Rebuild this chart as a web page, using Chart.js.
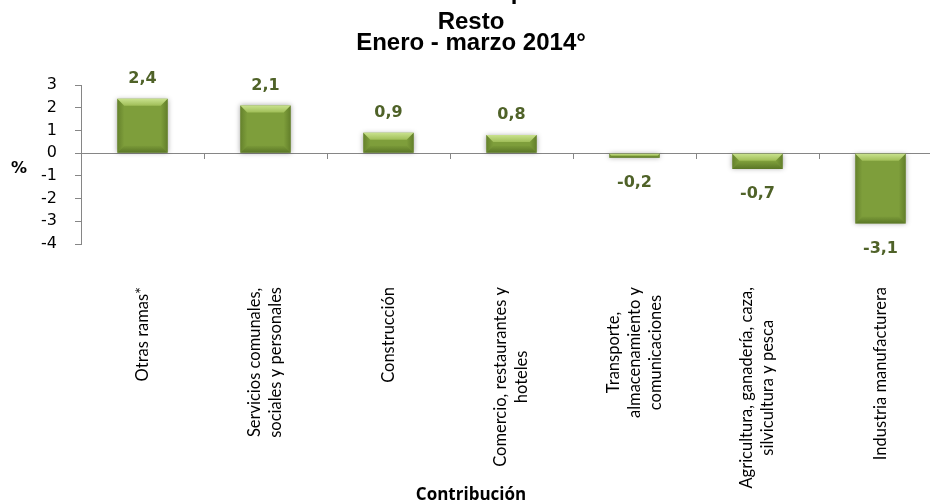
<!DOCTYPE html>
<html lang="es">
<head>
<meta charset="utf-8">
<title>Contribución por rama - Resto</title>
<script src="https://cdn.jsdelivr.net/npm/chart.js@4.4.1/dist/chart.umd.min.js"></script>
<style>
  html, body { margin: 0; padding: 0; background: #fff; overflow: hidden; }
  #grafico { display: block; }
</style>
</head>
<body>
<canvas id="grafico" width="942" height="504"></canvas>
<script>
// ---------- datos ----------
const ramas = [
  ['Otras ramas*'],
  ['Servicios comunales,', 'sociales y personales'],
  ['Construcción'],
  ['Comercio, restaurantes y', 'hoteles'],
  ['Transporte,', 'almacenamiento y', 'comunicaciones'],
  ['Agricultura, ganadería, caza,', 'silvicultura y pesca'],
  ['Industria manufacturera']
];
const contribucion = [2.4, 2.1, 0.9, 0.8, -0.2, -0.7, -3.1];
const ticksY = [3, 2, 1, 0, -1, -2, -3, -4];

const titulo = ['Resto', 'Enero - marzo 2014°'];
const tituloSuperior = 'Tasa de empleo';
const tituloEjeX = 'Contribución';
const tituloEjeY = '%';

// ---------- estilos ----------
const GRIS = '#868686';
const VERDE = '#7E9E3B';
const VERDE_TEXTO = '#4F6228';

const fmt = v => v.toFixed(1).replace('.', ',');

// sombra suave alrededor de las barras
const sombra = {
  id: 'sombra',
  beforeDatasetsDraw(chart) {
    const ctx = chart.ctx;
    ctx.save();
    ctx.shadowColor = 'rgba(0,0,0,0.35)';
    ctx.shadowBlur = 5;
  },
  afterDatasetsDraw(chart) {
    chart.ctx.restore();
  }
};

// bisel tipo "relieve" sobre cada barra
const relieve = {
  id: 'relieve',
  afterDatasetsDraw(chart) {
    const ctx = chart.ctx;
    chart.getDatasetMeta(0).data.forEach(bar => {
      const p = bar.getProps(['x', 'y', 'base', 'width'], true);
      const l = p.x - p.width / 2, r = p.x + p.width / 2;
      const t = Math.min(p.y, p.base), b = Math.max(p.y, p.base);
      const bev = Math.min(7, (b - t) / 2);
      ctx.save();
      // cara superior clara
      let g = ctx.createLinearGradient(0, t, 0, t + bev);
      g.addColorStop(0, '#C9E28E');
      g.addColorStop(1, '#A0BE58');
      ctx.fillStyle = g;
      ctx.beginPath();
      ctx.moveTo(l, t); ctx.lineTo(r, t);
      ctx.lineTo(r - bev, t + bev); ctx.lineTo(l + bev, t + bev);
      ctx.closePath(); ctx.fill();
      // laterales
      g = ctx.createLinearGradient(l, 0, l + bev, 0);
      g.addColorStop(0, 'rgba(70,95,25,0.45)');
      g.addColorStop(1, 'rgba(70,95,25,0.0)');
      ctx.fillStyle = g;
      ctx.beginPath();
      ctx.moveTo(l, t); ctx.lineTo(l + bev, t + bev);
      ctx.lineTo(l + bev, b - bev); ctx.lineTo(l, b);
      ctx.closePath(); ctx.fill();
      g = ctx.createLinearGradient(r, 0, r - bev, 0);
      g.addColorStop(0, 'rgba(70,95,25,0.5)');
      g.addColorStop(1, 'rgba(70,95,25,0.0)');
      ctx.fillStyle = g;
      ctx.beginPath();
      ctx.moveTo(r, t); ctx.lineTo(r - bev, t + bev);
      ctx.lineTo(r - bev, b - bev); ctx.lineTo(r, b);
      ctx.closePath(); ctx.fill();
      // cara inferior oscura
      g = ctx.createLinearGradient(0, b, 0, b - bev);
      g.addColorStop(0, 'rgba(60,85,20,0.55)');
      g.addColorStop(1, 'rgba(60,85,20,0.05)');
      ctx.fillStyle = g;
      ctx.beginPath();
      ctx.moveTo(l, b); ctx.lineTo(r, b);
      ctx.lineTo(r - bev, b - bev); ctx.lineTo(l + bev, b - bev);
      ctx.closePath(); ctx.fill();
      ctx.restore();
    });
  }
};

// valores encima / debajo de cada barra
const rotulos = {
  id: 'rotulos',
  afterDatasetsDraw(chart) {
    const ctx = chart.ctx;
    const datos = chart.data.datasets[0].data;
    ctx.save();
    ctx.font = 'bold 16px "DejaVu Sans", Verdana, sans-serif';
    ctx.fillStyle = VERDE_TEXTO;
    ctx.textAlign = 'center';
    ctx.textBaseline = 'middle';
    chart.getDatasetMeta(0).data.forEach((bar, i) => {
      const v = datos[i];
      const y = v >= 0 ? bar.y - 20 : bar.y + 25;
      ctx.fillText(fmt(v), bar.x, y);
    });
    ctx.restore();
  }
};

// etiquetas de categoria giradas, lineas centradas entre si
const etiquetasX = {
  id: 'etiquetasX',
  afterDraw(chart) {
    const ctx = chart.ctx;
    const xs = chart.scales.x;
    const top = chart.chartArea.bottom + 43;
    const lineH = 21;
    ctx.save();
    ctx.font = '16.5px Lato, "Open Sans", sans-serif';
    ctx.fillStyle = '#000';
    ctx.textAlign = 'center';
    ctx.textBaseline = 'middle';
    ramas.forEach((lineas, i) => {
      const cx = xs.getPixelForValue(i);
      const maxW = Math.max(...lineas.map(s => ctx.measureText(s).width));
      ctx.save();
      ctx.translate(cx, top + maxW / 2);
      ctx.rotate(-Math.PI / 2);
      lineas.forEach((s, j) => {
        ctx.fillText(s, 0, (j - (lineas.length - 1) / 2) * lineH);
      });
      ctx.restore();
    });

    // titulo del eje Y, horizontal
    const ys = chart.scales.y;
    ctx.font = 'bold 16px "DejaVu Sans", Verdana, sans-serif';
    ctx.fillText(tituloEjeY, 19, (ys.top + ys.bottom) / 2 + 4);

    // primera linea del titulo, cortada en el borde superior
    ctx.font = 'bold 24px "Liberation Sans", Arial, sans-serif';
    ctx.textBaseline = 'alphabetic';
    ctx.fillText(tituloSuperior, chart.width / 2, -1);
    ctx.restore();
  }
};

new Chart(document.getElementById('grafico'), {
  type: 'bar',
  data: {
    labels: ramas,
    datasets: [{
      data: contribucion,
      backgroundColor: VERDE,
      borderWidth: 0,
      barPercentage: 0.41,
      categoryPercentage: 1
    }]
  },
  options: {
    responsive: false,
    animation: false,
    layout: { padding: 0 },
    plugins: {
      legend: { display: false },
      tooltip: { enabled: false },
      title: {
        display: true,
        text: titulo,
        color: '#000',
        font: { family: '"Liberation Sans", Arial, sans-serif', weight: 'bold', size: 24, lineHeight: 0.85 },
        padding: { top: 12.5, bottom: 31.7 }
      },
      subtitle: {
        display: true,
        position: 'bottom',
        text: tituloEjeX,
        color: '#000',
        font: { family: '"Open Sans", Lato, sans-serif', weight: 'bold', size: 17, lineHeight: 1 },
        padding: { top: 243, bottom: 0 }
      }
    },
    scales: {
      x: {
        position: { y: 0 },
        ticks: { display: false },
        grid: { offset: true, drawOnChartArea: false, drawTicks: true, tickLength: 5, tickColor: GRIS },
        border: { display: true, color: GRIS }
      },
      y: {
        min: Math.min(...ticksY),
        max: Math.max(...ticksY),
        afterFit: scale => { scale.width = 81; },
        ticks: {
          stepSize: 1,
          padding: 18,
          color: '#000',
          font: { family: '"DejaVu Sans", Verdana, sans-serif', size: 16 }
        },
        grid: { drawOnChartArea: false, drawTicks: true, tickLength: 6, tickColor: GRIS },
        border: { display: true, color: GRIS }
      }
    }
  },
  plugins: [sombra, relieve, rotulos, etiquetasX]
});
</script>
</body>
</html>
